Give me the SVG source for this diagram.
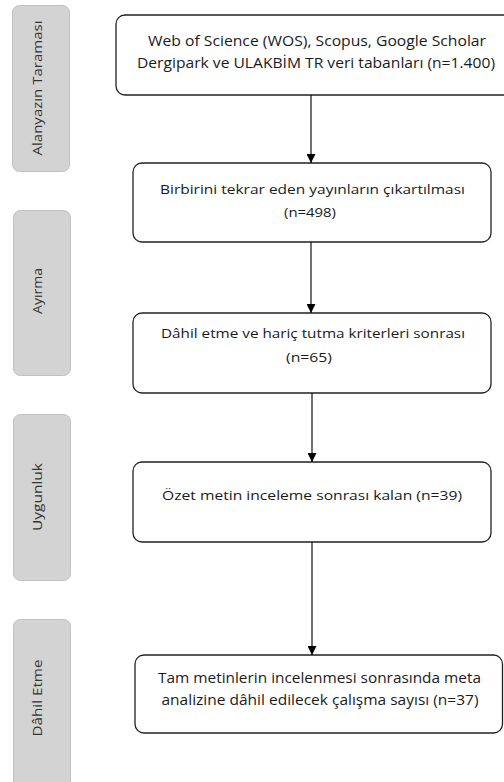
<svg xmlns="http://www.w3.org/2000/svg" width="504" height="782" viewBox="0 0 504 782">
<defs>
<marker id="arr" viewBox="0 0 10 10" refX="10" refY="5" markerWidth="9" markerHeight="9" markerUnits="userSpaceOnUse" orient="auto">
<path d="M0,0 L10,5 L0,10 z" fill="#000"/>
</marker>
</defs>
<style>
.side{fill:#d3d3d3;stroke:#c0c0c0;stroke-width:1}
.sidet{font-family:"Open Sans","Liberation Sans",sans-serif;font-size:13px;fill:#333;text-anchor:middle}
.box{fill:#fff;stroke:#222;stroke-width:1.3}
.t{font-family:"Open Sans","Liberation Sans",sans-serif;font-size:13px;fill:#1a1a1a;text-anchor:middle}
.tb{font-size:14px}
.c{stroke:#111;stroke-width:1.2;fill:none}
</style>
<rect width="504" height="782" fill="#fff"/>
<g id="lane1"><rect class="side" x="12.5" y="5.5" width="57" height="166" rx="7"/><text class="sidet" transform="translate(42,88) rotate(-90)" textLength="135" lengthAdjust="spacingAndGlyphs">Alanyazın Taraması</text></g>
<g id="lane2"><rect class="side" x="13.5" y="210.5" width="57" height="165" rx="7"/><text class="sidet" transform="translate(42,291) rotate(-90)" textLength="46" lengthAdjust="spacingAndGlyphs">Ayırma</text></g>
<g id="lane3"><rect class="side" x="13.5" y="414.5" width="57" height="166" rx="7"/><text class="sidet" transform="translate(42,497) rotate(-90)" textLength="68" lengthAdjust="spacingAndGlyphs">Uygunluk</text></g>
<g id="lane4"><rect class="side" x="13.5" y="619.5" width="57" height="175" rx="7"/><text class="sidet" transform="translate(42,698) rotate(-90)" textLength="77" lengthAdjust="spacingAndGlyphs">Dâhil Etme</text></g>
<g id="n1"><rect class="box" x="116" y="15" width="402" height="80" rx="9"/><text class="t tb" x="317" y="46" textLength="338" lengthAdjust="spacingAndGlyphs">Web of Science (WOS), Scopus, Google Scholar</text><text class="t tb" x="316" y="68" textLength="358" lengthAdjust="spacingAndGlyphs">Dergipark ve ULAKBİM TR veri tabanları (n=1.400)</text></g>
<g id="n2"><rect class="box" x="133" y="163" width="358" height="79" rx="9"/><text class="t" x="312.5" y="194" textLength="305" lengthAdjust="spacingAndGlyphs">Birbirini tekrar eden yayınların çıkartılması</text><text class="t" x="310" y="217" textLength="52" lengthAdjust="spacingAndGlyphs">(n=498)</text></g>
<g id="n3"><rect class="box" x="133" y="313" width="358" height="80" rx="9"/><text class="t" x="313" y="338" textLength="304" lengthAdjust="spacingAndGlyphs">Dâhil etme ve hariç tutma kriterleri sonrası</text><text class="t" x="309" y="362" textLength="46" lengthAdjust="spacingAndGlyphs">(n=65)</text></g>
<g id="n4"><rect class="box" x="133" y="462" width="358" height="80" rx="9"/><text class="t" x="312" y="500" textLength="300" lengthAdjust="spacingAndGlyphs">Özet metin inceleme sonrası kalan (n=39)</text></g>
<g id="n5"><rect class="box" x="135" y="655" width="367.5" height="78" rx="9"/><text class="t tb" x="319.5" y="683" textLength="323" lengthAdjust="spacingAndGlyphs">Tam metinlerin incelenmesi sonrasında meta</text><text class="t tb" x="320" y="705" textLength="317" lengthAdjust="spacingAndGlyphs">analizine dâhil edilecek çalışma sayısı (n=37)</text></g>
<g id="connectors">
<line class="c" x1="311" y1="95" x2="311" y2="163" marker-end="url(#arr)"/>
<line class="c" x1="311" y1="242" x2="311" y2="313" marker-end="url(#arr)"/>
<line class="c" x1="312" y1="393" x2="312" y2="462" marker-end="url(#arr)"/>
<line class="c" x1="312" y1="542" x2="312" y2="655" marker-end="url(#arr)"/>
</g>
</svg>
